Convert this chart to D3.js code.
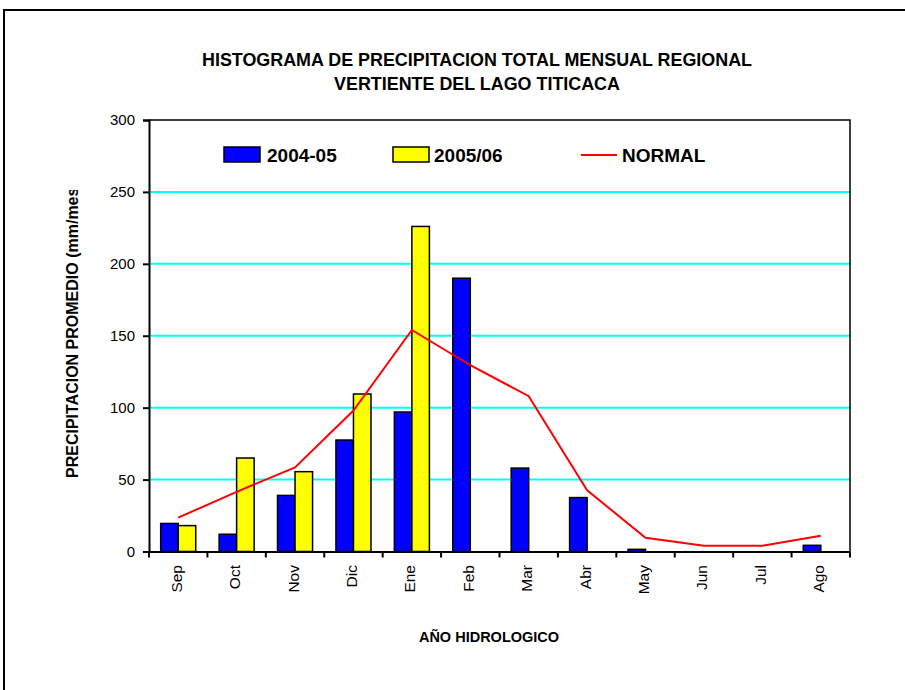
<!DOCTYPE html>
<html>
<head>
<meta charset="utf-8">
<script src="https://cdn.jsdelivr.net/npm/d3@7"></script>
<style>
  html, body { margin: 0; padding: 0; background: #fff; }
  svg { display: block; font-family: "Liberation Sans", Arial, sans-serif; }
</style>
</head>
<body>
<svg id="chart" width="905" height="690"></svg>
<script>
const months = ["Sep","Oct","Nov","Dic","Ene","Feb","Mar","Abr","May","Jun","Jul","Ago"];
const series2004 = [19.5, 12, 39, 77.5, 97, 190, 58, 37.5, 1.5, 0, 0, 4.3];
const series2005 = [18, 65, 55.5, 109.5, 226, 0, 0, 0, 0, 0, 0, 0];
const normal = [23.5, 41.5, 58.5, 98, 154, 129.5, 108, 42.5, 9.6, 4, 4, 11];
const yTicks = [0, 50, 100, 150, 200, 250, 300];
const titleLines = ["HISTOGRAMA DE PRECIPITACION TOTAL MENSUAL REGIONAL", "VERTIENTE DEL LAGO TITICACA"];
const legendLabels = ["2004-05", "2005/06", "NORMAL"];

const svg = d3.select("#chart");
const L = 149, R = 850, T = 120, B = 551.5;

// outer border
svg.append("rect").attr("x", 4).attr("y", 10).attr("width", 920).attr("height", 700)
  .attr("fill", "none").attr("stroke", "#000").attr("stroke-width", 2);

// title
svg.append("g").selectAll("text").data(titleLines).join("text")
  .attr("x", 477).attr("y", (d, i) => 66 + i * 24)
  .attr("text-anchor", "middle").attr("font-weight", "bold").attr("font-size", "17.9px")
  .text(d => d);

const x = d3.scaleBand().domain(months).range([L, R]).paddingInner(0).paddingOuter(0);
const y = d3.scaleLinear().domain([0, 300]).range([B, T]);
const bw = x.bandwidth();

// gridlines
svg.append("g").selectAll("line").data(yTicks.filter(v => v > 0 && v < 300)).join("line")
  .attr("x1", L).attr("x2", R).attr("y1", d => y(d)).attr("y2", d => y(d))
  .attr("stroke", "#00FFFF").attr("stroke-width", 2);

// frame top/right
svg.append("path").attr("d", `M${L},${T}H${R}V${B}`).attr("fill", "none")
  .attr("stroke", "#000").attr("stroke-width", 1.5);

// bars
svg.append("g").selectAll("rect").data(months).join("rect")
  .attr("x", d => x(d) + bw * 0.2).attr("width", bw * 0.3)
  .attr("y", (d, i) => y(series2004[i])).attr("height", (d, i) => B - y(series2004[i]))
  .attr("fill", "#0000FF").attr("stroke", "#000").attr("stroke-width", 1.5)
  .attr("display", (d, i) => series2004[i] > 0 ? null : "none");
svg.append("g").selectAll("rect").data(months).join("rect")
  .attr("x", d => x(d) + bw * 0.5).attr("width", bw * 0.3)
  .attr("y", (d, i) => y(series2005[i])).attr("height", (d, i) => B - y(series2005[i]))
  .attr("fill", "#FFFF00").attr("stroke", "#000").attr("stroke-width", 1.5)
  .attr("display", (d, i) => series2005[i] > 0 ? null : "none");

// normal line
const line = d3.line().x((d, i) => x(months[i]) + bw / 2).y(d => y(d));
svg.append("path").datum(normal).attr("d", line).attr("fill", "none")
  .attr("stroke", "#FF0000").attr("stroke-width", 2);

// y axis
const yAxis = d3.axisLeft(y).tickValues(yTicks).tickSize(6).tickPadding(8);
const gy = svg.append("g").attr("transform", `translate(${L},0)`).call(yAxis);
gy.select(".domain").attr("stroke-width", 2);
gy.selectAll(".tick line").attr("stroke-width", 2);
gy.selectAll("text").attr("font-size", "15px").attr("font-family", "Liberation Sans, Arial, sans-serif").attr("fill", "#000");

// x axis
const xAxis = d3.axisBottom(x).tickSize(0).tickFormat("");
const gx = svg.append("g").attr("transform", `translate(0,${B})`).call(xAxis);
gx.select(".domain").attr("stroke-width", 2);
// band boundary ticks
const bounds = months.map(m => x(m)).concat([R]);
svg.append("g").selectAll("line").data(bounds).join("line")
  .attr("x1", d => d).attr("x2", d => d).attr("y1", B).attr("y2", B + 6)
  .attr("stroke", "#000").attr("stroke-width", 2);
// month labels
svg.append("g").selectAll("text").data(months).join("text")
  .attr("transform", d => `translate(${x(d) + bw / 2 + 3.5},${565}) rotate(-90)`)
  .attr("text-anchor", "end").attr("font-size", "15.5px").text(d => d);

// axis titles
svg.append("text").attr("x", 489).attr("y", 641.5).attr("text-anchor", "middle")
  .attr("font-weight", "bold").attr("font-size", "14.5px").text("AÑO HIDROLOGICO");

svg.append("clipPath").attr("id", "ylabclip").append("rect")
  .attr("x", 40).attr("y", 190).attr("width", 60).attr("height", 320);
svg.append("g").attr("clip-path", "url(#ylabclip)").append("text")
  .attr("transform", "translate(77.5,478) rotate(-90)")
  .attr("font-weight", "bold").attr("font-size", "16px")
  .text("PRECIPITACION PROMEDIO (mm/mes)");

// legend
const lg = svg.append("g");
const boxColors = ["#0000FF", "#FFFF00"];
const boxX = [224, 393];
lg.selectAll("rect").data(boxColors).join("rect")
  .attr("x", (d, i) => boxX[i]).attr("y", 147).attr("width", 36).attr("height", 15)
  .attr("fill", d => d).attr("stroke", "#000").attr("stroke-width", 1.5);
lg.append("line").attr("x1", 581).attr("x2", 617).attr("y1", 155).attr("y2", 155)
  .attr("stroke", "#FF0000").attr("stroke-width", 2);
const textX = [267, 434, 622];
lg.selectAll("text").data(legendLabels).join("text")
  .attr("x", (d, i) => textX[i]).attr("y", 162)
  .attr("font-weight", "bold").attr("font-size", "19px").text(d => d);
</script>
</body>
</html>
